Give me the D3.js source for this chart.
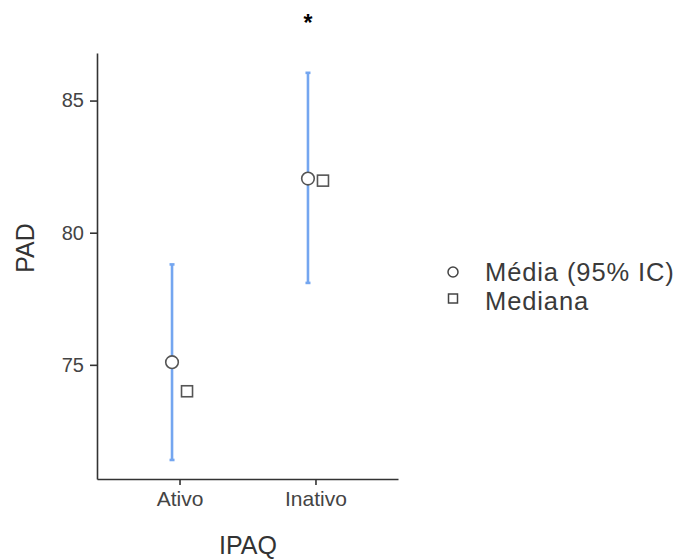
<!DOCTYPE html>
<html><head><meta charset="utf-8">
<script src="https://cdn.jsdelivr.net/npm/d3@7"></script>
<style>body{margin:0;background:#fff}</style>
</head><body>
<svg id="c" width="681" height="560"></svg>
<script>
const categories = ["Ativo", "Inativo"];
const means = [75.1, 82.05];
const ciLow = [71.4, 78.1];
const ciHigh = [78.8, 86.05];
const medians = [74.0, 81.97];
const yTicks = [75, 80, 85];
const legendLabels = ["Média (95% IC)", "Mediana"];

const svg = d3.select("#c");
const font = "Liberation Sans, Arial, sans-serif";
const mLeft = 97, mRight = 398, mTop = 53, mBottom = 479;
const x = d3.scalePoint().domain(categories).range([mLeft, mRight]).padding(0.607);
const y = d3.scaleLinear().domain([70.68, 86.8]).range([mBottom, mTop]);
const axisCol = "#333";

// y axis
const ya = svg.append("g").attr("transform", `translate(${mLeft},0)`)
  .call(d3.axisLeft(y).tickValues(yTicks).tickSize(7).tickPadding(6).tickSizeOuter(0));
ya.select(".domain").attr("stroke", axisCol).attr("stroke-width", 1.6);
ya.selectAll(".tick line").attr("stroke", axisCol).attr("stroke-width", 1.6);
ya.selectAll(".tick text").attr("fill", "#444").style("font-family", font).style("font-size", "20px");

// x axis
const xa = svg.append("g").attr("transform", `translate(0,${mBottom})`)
  .call(d3.axisBottom(x).tickSize(6).tickPadding(6).tickSizeOuter(0));
xa.select(".domain").attr("stroke", axisCol).attr("stroke-width", 1.6);
xa.selectAll(".tick line").attr("stroke", axisCol).attr("stroke-width", 1.6);
xa.selectAll(".tick text").attr("fill", "#444").style("font-family", font).style("font-size", "21px");

// axis titles
svg.append("text").attr("x", 248).attr("y", 554).attr("text-anchor", "middle")
  .attr("fill", "#333").style("font-family", font).style("font-size", "25px").text("IPAQ");
svg.append("text").attr("transform", "translate(34,248) rotate(-90)").attr("text-anchor", "middle")
  .attr("fill", "#333").style("font-family", font).style("font-size", "25px").text("PAD");

const blue = "#74a6f0";
const off = 7.5;
categories.forEach((c, i) => {
  const cx = x(c) - off;
  svg.append("line").attr("x1", cx).attr("x2", cx).attr("y1", y(ciLow[i])).attr("y2", y(ciHigh[i]))
    .attr("stroke", blue).attr("stroke-width", 2.6);
  [ciLow[i], ciHigh[i]].forEach(v => {
    svg.append("line").attr("x1", cx - 2.5).attr("x2", cx + 2.5).attr("y1", y(v)).attr("y2", y(v))
      .attr("stroke", blue).attr("stroke-width", 2.6);
  });
  svg.append("circle").attr("cx", cx).attr("cy", y(means[i])).attr("r", 6.3)
    .attr("fill", "#fff").attr("stroke", "#555").attr("stroke-width", 1.6);
  const sx = x(c) + off;
  svg.append("rect").attr("x", sx - 5.5).attr("y", y(medians[i]) - 5.5).attr("width", 11).attr("height", 11)
    .attr("fill", "#fff").attr("stroke", "#555").attr("stroke-width", 1.6);
});

// significance asterisk
svg.append("text").attr("x", x("Inativo") - off).attr("y", 31).attr("text-anchor", "middle")
  .attr("fill", "#000").style("font-family", font).style("font-size", "23px").style("font-weight", "bold").text("*");

// legend
svg.append("circle").attr("cx", 453).attr("cy", 272).attr("r", 5).attr("fill", "#fff").attr("stroke", "#444").attr("stroke-width", 1.5);
svg.append("rect").attr("x", 448.5).attr("y", 294).attr("width", 9).attr("height", 9).attr("fill", "#fff").attr("stroke", "#444").attr("stroke-width", 1.5);
legendLabels.forEach((t, i) => {
  svg.append("text").attr("x", 485).attr("y", 280.5 + i * 29.5).attr("fill", "#3a3a3a")
    .style("font-family", font).style("font-size", "25.5px").style("letter-spacing", "0.9px").text(t);
});
</script>
</body></html>
